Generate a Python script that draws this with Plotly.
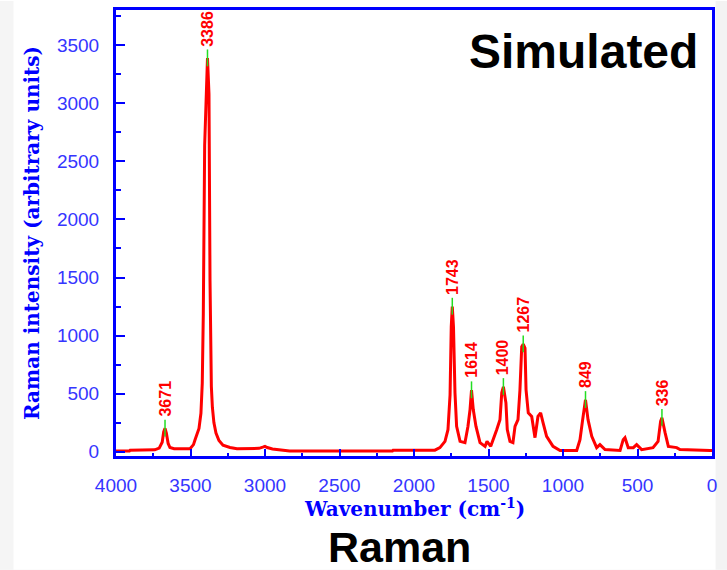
import plotly.graph_objects as go

# Simulated Raman spectrum (wavenumber in cm^-1, intensity in arbitrary units)
wavenumber = [
    4000, 3910, 3905, 3740, 3710, 3690, 3680, 3671, 3662, 3650, 3638, 3610,
    3503, 3480, 3470, 3455, 3443, 3430, 3421, 3414, 3405, 3386, 3376, 3369,
    3360, 3353, 3343, 3329, 3309, 3282, 3235, 3188, 3040, 3010, 3000, 2985,
    2950, 2835, 2145, 2140, 1860, 1826, 1792, 1772, 1758, 1750, 1743, 1735,
    1725, 1714, 1691, 1658, 1638, 1624, 1614, 1602, 1584, 1557, 1523, 1510,
    1485, 1445, 1423, 1411, 1400, 1383, 1374, 1356, 1336, 1322, 1302, 1289,
    1277, 1267, 1255, 1248, 1233, 1210, 1188, 1168, 1150, 1134, 1110, 1067,
    1020, 908, 886, 868, 852, 849, 832, 807, 774, 752, 718, 617,
    596, 584, 562, 528, 506, 472, 396, 362, 345, 336, 315, 293,
    237, 215, 13, 0,
]
intensity = [
    5, 5, 12, 15, 30, 80, 170, 200, 160, 70, 35, 25,
    25, 60, 100, 150, 200, 330, 590, 1190, 2640, 3390, 3080, 1470,
    560, 380, 250, 160, 95, 55, 35, 25, 28, 40, 45, 35,
    22, 5, 5, 12, 12, 34, 88, 189, 489, 1075, 1250, 1072,
    506, 217, 88, 77, 217, 360, 530, 360, 217, 77, 45, 88,
    45, 189, 275, 506, 558, 420, 189, 88, 77, 217, 275, 530,
    903, 926, 892, 532, 334, 303, 120, 303, 334, 249, 131, 45,
    9, 9, 103, 275, 420, 446, 275, 131, 34, 60, 17, 9,
    103, 120, 34, 34, 60, 17, 34, 88, 260, 292, 163, 45,
    34, 17, 9, 9,
]

# Labelled band positions
peak_labels = [3671, 3386, 1743, 1614, 1400, 1267, 849, 336]

x_tickvals = [4000, 3500, 3000, 2500, 2000, 1500, 1000, 500, 0]
y_tickvals = [0, 500, 1000, 1500, 2000, 2500, 3000, 3500]

BLUE = "#0000ff"
TICK_BLUE = "#3535ff"
RED = "#ff0000"
GREEN = "#22dd22"

lookup = dict(zip(wavenumber, intensity))
peak_heights = [lookup[p] for p in peak_labels]

fig = go.Figure()

fig.add_trace(go.Scatter(
    x=wavenumber, y=intensity, mode="lines",
    line=dict(color=RED, width=3), hoverinfo="skip", showlegend=False,
))

# Short green markers through each labelled maximum
gx, gy = [], []
for p, h in zip(peak_labels, peak_heights):
    gx += [p, p, None]
    gy += [h - 70, h + 75, None]
fig.add_trace(go.Scatter(
    x=gx, y=gy, mode="lines",
    line=dict(color=GREEN, width=1.5), hoverinfo="skip", showlegend=False,
))

annotations = []
for p, h in zip(peak_labels, peak_heights):
    annotations.append(dict(
        x=p, y=h + 85, xref="x", yref="y", text="<b>%d</b>" % p,
        textangle=-90, xanchor="center", yanchor="bottom", showarrow=False,
        font=dict(family="Liberation Sans, Arial", size=16, color=RED),
    ))

annotations += [
    dict(x=-0.141, y=0.5, xref="paper", yref="paper",
         text="<b>Raman intensity (arbitrary units)</b>", textangle=-90,
         showarrow=False, xanchor="center", yanchor="middle",
         font=dict(family="DejaVu Serif", size=20, color=BLUE)),
    dict(x=0.5, y=-0.116, xref="paper", yref="paper",
         text="<b>Wavenumber (cm<sup>-1</sup>)</b>",
         showarrow=False, xanchor="center", yanchor="middle",
         font=dict(family="DejaVu Serif", size=20, color=BLUE)),
    dict(x=0.7836, y=0.906, xref="paper", yref="paper",
         text="<b>Simulated</b>", showarrow=False,
         xanchor="center", yanchor="middle",
         font=dict(family="Liberation Sans, Arial", size=48, color="black")),
    dict(x=0.4765, y=-0.203, xref="paper", yref="paper",
         text="<b>Raman</b>", showarrow=False,
         xanchor="center", yanchor="middle",
         font=dict(family="Liberation Sans, Arial", size=43, color="black")),
]

# Light grey page edges
shapes = [
    dict(type="rect", xref="paper", yref="paper", layer="below",
         x0=-0.2, x1=1.03, y0=-0.255, y1=-0.32,
         fillcolor="#f1f1f1", line=dict(width=0)),
    dict(type="rect", xref="paper", yref="paper", layer="below",
         x0=-0.2, x1=-0.172, y0=-0.255, y1=1.02,
         fillcolor="#f5f5f5", line=dict(width=0)),
    dict(type="rect", xref="paper", yref="paper", layer="below",
         x0=1.006, x1=1.03, y0=-0.255, y1=1.02,
         fillcolor="#f3f3f3", line=dict(width=0)),
]

axis_common = dict(
    showgrid=False, zeroline=False, showline=True, mirror=True,
    linecolor=BLUE, linewidth=3,
    ticks="inside", tickcolor=BLUE, tickwidth=2,
    tickfont=dict(family="Liberation Sans, Arial", size=19, color=TICK_BLUE),
)

fig.update_layout(
    width=727, height=570,
    margin=dict(l=116, r=15, t=7, b=114),
    paper_bgcolor="white", plot_bgcolor="white",
    xaxis=dict(
        range=[4000, 0], tickmode="array", tickvals=x_tickvals,
        ticklen=7, ticklabelstandoff=10,
        minor=dict(ticks="inside", ticklen=3, tickwidth=2, tickcolor=BLUE,
                   dtick=250, tick0=0),
        **axis_common,
    ),
    yaxis=dict(
        range=[-38, 3805], tickmode="array", tickvals=y_tickvals,
        ticklen=9, ticklabelstandoff=10,
        minor=dict(ticks="inside", ticklen=5, tickwidth=2, tickcolor=BLUE,
                   dtick=250, tick0=0),
        **axis_common,
    ),
    annotations=annotations,
    shapes=shapes,
)

fig.write_html("out.html")
